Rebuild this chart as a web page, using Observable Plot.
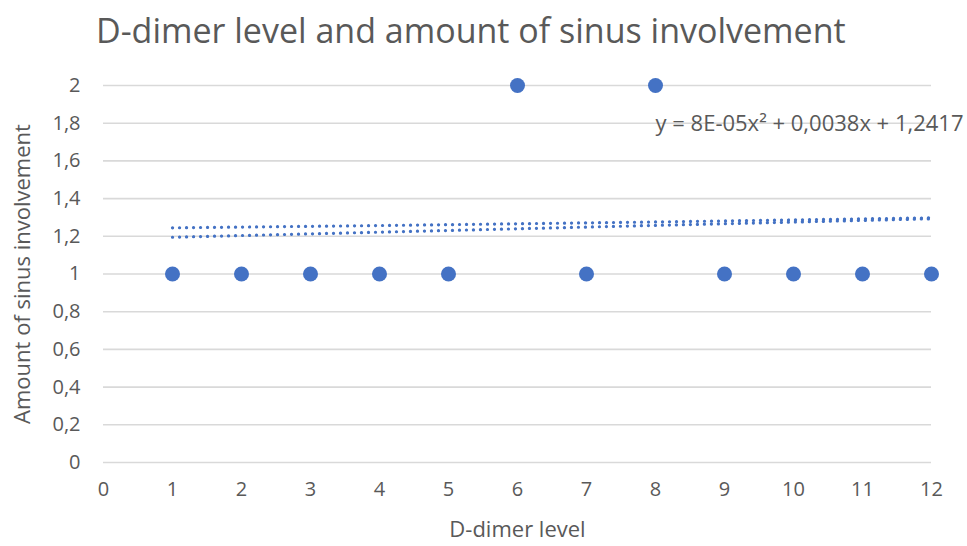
<!DOCTYPE html>
<html><head><meta charset="utf-8">
<script src="https://cdn.jsdelivr.net/npm/d3@7"></script>
<script src="https://cdn.jsdelivr.net/npm/@observablehq/plot@0.6"></script>
<style>
body{margin:0;background:#fff;font-family:"Open Sans",sans-serif;}
#title{height:60px;box-sizing:border-box;padding-left:96px;padding-top:8px;font-size:34px;color:#595959;line-height:44px;white-space:nowrap;}
</style></head><body>
<div id="title">D-dimer level and amount of sinus involvement</div>
<div id="chart"></div>
<script>
const dimer = [1,2,3,4,5,6,7,8,9,10,11,12];
const sinus = [1,1,1,1,1,2,1,2,1,1,1,1];
const trendX = [1,4,8,12];
const trendPoly = [1.245,1.257,1.276,1.298];
const trendLower = [1.195,1.222,1.258,1.293];
const xTicks = [0,1,2,3,4,5,6,7,8,9,10,11,12];
const yTicks = [0,0.2,0.4,0.6,0.8,1,1.2,1.4,1.6,1.8,2];
const equation = "y = 8E-05x² + 0,0038x + 1,2417";

const pts = dimer.map((d,i)=>({x:d,y:sinus[i]}));
const poly = trendX.map((d,i)=>({x:d,y:trendPoly[i]}));
const lower = trendX.map((d,i)=>({x:d,y:trendLower[i]}));
const fmt = v => String(v).replace(".", ",");
const grey = "#595959";
const blue = "#4472C4";

const chart = Plot.plot({
  width: 967, height: 486,
  marginLeft: 103, marginRight: 36, marginTop: 25, marginBottom: 84,
  style: {fontFamily: '"Open Sans", sans-serif', fontSize: "20px", color: grey, background: "#fff"},
  x: {domain: [0,12]},
  y: {domain: [0,2]},
  marks: [
    Plot.gridY(yTicks, {stroke: "#d9d9d9", strokeOpacity: 1, strokeWidth: 1.6}),
    Plot.axisX(xTicks, {tickSize: 0, tickPadding: 19, tickFormat: fmt, fill: grey, fontSize: 20, label: null}),
    Plot.axisX({tickSize: 0, ticks: [], fill: grey, fontSize: 22,
      label: "D-dimer level", labelAnchor: "center", labelArrow: "none", labelOffset: 74}),
    Plot.axisY(yTicks, {tickSize: 0, tickPadding: 23, tickFormat: fmt, fill: grey, fontSize: 20, label: null}),
    Plot.axisY({tickSize: 0, ticks: [], fill: grey, fontSize: 22,
      label: "Amount of sinus involvement", labelAnchor: "center", labelArrow: "none", labelOffset: 89}),
    Plot.line(poly, {x: "x", y: "y", stroke: blue, strokeWidth: 3.2, strokeDasharray: "0.1 6.9", strokeLinecap: "round"}),
    Plot.line(lower, {x: "x", y: "y", stroke: blue, strokeWidth: 3.2, strokeDasharray: "0.1 6.9", strokeLinecap: "round"}),
    Plot.dot(pts, {x: "x", y: "y", r: 7.5, fill: blue, stroke: "none"}),
    Plot.text([equation], {frameAnchor: "top-right", dx: 32, dy: 30, text: d => d, fill: grey, fontSize: 22, textAnchor: "end"})
  ]
});
document.getElementById("chart").appendChild(chart);
</script>
</body></html>
